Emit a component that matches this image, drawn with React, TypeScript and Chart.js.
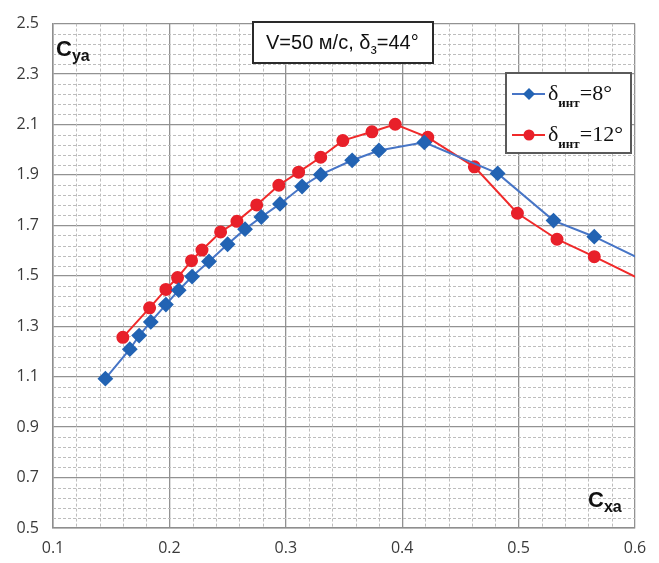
import React, { useEffect, useRef } from "react";
import { Chart, registerables } from "chart.js";

Chart.register(...registerables);

// Series 1: δинт = 8° (blue diamonds)
const blueX = [0.145, 0.166, 0.174, 0.184, 0.197, 0.208, 0.2195, 0.234, 0.250, 0.265, 0.279, 0.295, 0.314, 0.330, 0.357, 0.380, 0.419, 0.482, 0.530, 0.565, 0.62];
const blueY = [1.092, 1.209, 1.263, 1.317, 1.386, 1.443, 1.497, 1.557, 1.625, 1.685, 1.733, 1.785, 1.854, 1.901, 1.958, 1.997, 2.029, 1.906, 1.719, 1.655, 1.533];
// Series 2: δинт = 12° (red circles)
const redX = [0.160, 0.183, 0.197, 0.207, 0.219, 0.228, 0.244, 0.258, 0.275, 0.294, 0.311, 0.330, 0.349, 0.374, 0.394, 0.422, 0.462, 0.499, 0.533, 0.565, 0.62];
const redY = [1.256, 1.373, 1.446, 1.493, 1.560, 1.602, 1.674, 1.716, 1.781, 1.859, 1.911, 1.970, 2.036, 2.071, 2.101, 2.049, 1.932, 1.748, 1.645, 1.576, 1.452];

const seriesNames = ["δинт=8°", "δинт=12°"];
const xTickLabels = ["0.1", "0.2", "0.3", "0.4", "0.5", "0.6"];
const yTickLabels = ["0.5", "0.7", "0.9", "1.1", "1.3", "1.5", "1.7", "1.9", "2.1", "2.3", "2.5"];
const xMin = 0.1, xMax = 0.6, xStep = 0.1, xMinor = 0.02;
const yMin = 0.5, yMax = 2.5, yStep = 0.2, yMinor = 0.04;

const titleMain = "V=50 м/с, δ";
const titleSub = "з";
const titleEnd = "=44°";
const yAxisName = ["C", "ya"];
const xAxisName = ["C", "xa"];

const BLUE_LINE = "#4775c6";
const BLUE_PT = "#2263b3";
const RED_LINE = "#f02a2a";
const RED_PT = "#e8202a";

const overlay = {
  id: "overlay",
  beforeDatasetsDraw(chart: any) {
    const { ctx, chartArea: a, scales } = chart;
    const x = scales.x, y = scales.y;
    ctx.save();
    ctx.beginPath();
    ctx.rect(a.left, a.top, a.right - a.left, a.bottom - a.top);
    ctx.clip();
    ctx.strokeStyle = "#bdbdbd";
    ctx.lineWidth = 1;
    ctx.setLineDash([3, 2]);
    const nx = Math.round((xMax - xMin) / xMinor);
    for (let i = 1; i < nx; i++) {
      if (i % 5 === 0) continue;
      const px = Math.round(x.getPixelForValue(xMin + i * xMinor)) + 0.5;
      ctx.beginPath();
      ctx.moveTo(px, a.top);
      ctx.lineTo(px, a.bottom);
      ctx.stroke();
    }
    const ny = Math.round((yMax - yMin) / yMinor);
    for (let i = 1; i < ny; i++) {
      if (i % 5 === 0) continue;
      const py = Math.round(y.getPixelForValue(yMin + i * yMinor)) + 0.5;
      ctx.beginPath();
      ctx.moveTo(a.left, py);
      ctx.lineTo(a.right, py);
      ctx.stroke();
    }
    ctx.restore();
  },
  afterDraw(chart: any) {
    const { ctx } = chart;
    ctx.save();
    ctx.setLineDash([]);
    ctx.textBaseline = "alphabetic";
    ctx.textAlign = "left";

    // Axis names
    ctx.fillStyle = "#111";
    ctx.font = "bold 22px 'Liberation Sans', Arial, sans-serif";
    ctx.fillText(yAxisName[0], 56, 56);
    let w = ctx.measureText(yAxisName[0]).width;
    ctx.font = "bold 16px 'Liberation Sans', Arial, sans-serif";
    ctx.fillText(yAxisName[1], 56 + w, 61);

    ctx.font = "bold 22px 'Liberation Sans', Arial, sans-serif";
    ctx.fillText(xAxisName[0], 588, 507);
    w = ctx.measureText(xAxisName[0]).width;
    ctx.font = "bold 16px 'Liberation Sans', Arial, sans-serif";
    ctx.fillText(xAxisName[1], 588 + w, 512);

    // Title box
    ctx.fillStyle = "#fff";
    ctx.fillRect(253, 22, 180, 41);
    ctx.strokeStyle = "#2a2a2a";
    ctx.lineWidth = 2;
    ctx.strokeRect(253, 22, 180, 41);
    ctx.fillStyle = "#111";
    ctx.font = "20px 'Liberation Sans', Arial, sans-serif";
    let tx = 266;
    ctx.fillText(titleMain, tx, 49);
    tx += ctx.measureText(titleMain).width;
    ctx.font = "14px 'Liberation Sans', Arial, sans-serif";
    ctx.fillText(titleSub, tx, 54);
    tx += ctx.measureText(titleSub).width;
    ctx.font = "20px 'Liberation Sans', Arial, sans-serif";
    ctx.fillText(titleEnd, tx, 49);

    // Legend box
    ctx.fillStyle = "#fff";
    ctx.fillRect(506, 73, 125, 80);
    ctx.strokeStyle = "#5a5a5a";
    ctx.lineWidth = 2;
    ctx.strokeRect(506, 73, 125, 80);
    const entries = [
      { name: seriesNames[0], line: BLUE_LINE, pt: BLUE_PT, shape: "d", y: 94 },
      { name: seriesNames[1], line: RED_LINE, pt: RED_PT, shape: "c", y: 135 },
    ];
    for (const e of entries) {
      ctx.strokeStyle = e.line;
      ctx.lineWidth = 2;
      ctx.beginPath();
      ctx.moveTo(512, e.y);
      ctx.lineTo(545, e.y);
      ctx.stroke();
      ctx.fillStyle = e.pt;
      ctx.beginPath();
      if (e.shape === "d") {
        ctx.moveTo(529, e.y - 6);
        ctx.lineTo(535, e.y);
        ctx.lineTo(529, e.y + 6);
        ctx.lineTo(523, e.y);
        ctx.closePath();
      } else {
        ctx.arc(529, e.y, 5.5, 0, Math.PI * 2);
      }
      ctx.fill();
      const m = e.name.match(/^(δ)(инт)(.*)$/);
      const parts = m ? [m[1], m[2], m[3]] : [e.name, "", ""];
      ctx.fillStyle = "#111";
      let x = 548;
      ctx.font = "22px 'Liberation Serif', 'Times New Roman', serif";
      ctx.fillText(parts[0], x, e.y + 6);
      x += ctx.measureText(parts[0]).width;
      ctx.font = "bold 13px 'Liberation Serif', 'Times New Roman', serif";
      ctx.fillText(parts[1], x, e.y + 13);
      x += ctx.measureText(parts[1]).width;
      ctx.font = "22px 'Liberation Serif', 'Times New Roman', serif";
      ctx.fillText(parts[2], x, e.y + 6);
    }
    ctx.restore();
  },
};

export default function App() {
  const ref = useRef<HTMLCanvasElement | null>(null);
  useEffect(() => {
    if (!ref.current) return;
    const blueData = blueX.map((x, i) => ({ x, y: blueY[i] }));
    const redData = redX.map((x, i) => ({ x, y: redY[i] }));
    const tickFont = { family: "'Open Sans', Lato, sans-serif", size: 16 };
    const chart = new Chart(ref.current, {
      type: "line",
      data: {
        datasets: [
          {
            label: seriesNames[0],
            data: blueData,
            borderColor: BLUE_LINE,
            backgroundColor: BLUE_PT,
            pointBackgroundColor: BLUE_PT,
            pointBorderColor: BLUE_PT,
            pointStyle: "rectRot",
            pointRadius: 6.5,
            borderWidth: 2,
            tension: 0,
          },
          {
            label: seriesNames[1],
            data: redData,
            borderColor: RED_LINE,
            backgroundColor: RED_PT,
            pointBackgroundColor: RED_PT,
            pointBorderColor: RED_PT,
            pointStyle: "circle",
            pointRadius: 5.5,
            borderWidth: 2,
            tension: 0,
          },
        ],
      },
      options: {
        animation: false,
        responsive: false,
        maintainAspectRatio: false,
        layout: { padding: { top: 15, right: 24, left: 0, bottom: 0 } },
        plugins: {
          legend: { display: false },
          title: { display: false },
          tooltip: { enabled: false },
        },
        scales: {
          x: {
            type: "linear",
            min: xMin,
            max: xMax,
            ticks: {
              stepSize: xStep,
              font: tickFont,
              color: "#3a3a3a",
              padding: 11,
              maxRotation: 0,
              callback: (v: any) => {
                const s = Number(v).toFixed(1);
                return xTickLabels.includes(s) ? s : "";
              },
            },
            grid: { color: "#929292", lineWidth: 1.3, drawTicks: false },
            border: { display: true, color: "#8e8e8e", width: 1.5 },
            afterFit: (s: any) => { s.height = 35; },
          },
          y: {
            type: "linear",
            min: yMin,
            max: yMax,
            ticks: {
              stepSize: yStep,
              font: tickFont,
              color: "#3a3a3a",
              padding: 14,
              callback: (v: any) => {
                const s = Number(v).toFixed(1);
                return yTickLabels.includes(s) ? s : "";
              },
            },
            grid: { color: "#929292", lineWidth: 1.3, drawTicks: false },
            border: { display: true, color: "#8e8e8e", width: 1.5 },
            afterFit: (s: any) => { s.width = 53; },
          },
        },
      },
      plugins: [overlay],
    } as any);
    return () => chart.destroy();
  }, []);
  return (
    <div style={{ position: "absolute", left: 0, top: 0, width: 659, height: 563, background: "#fff" }}>
      <canvas ref={ref} width={659} height={563} style={{ display: "block", width: 659, height: 563 }} />
    </div>
  );
}
